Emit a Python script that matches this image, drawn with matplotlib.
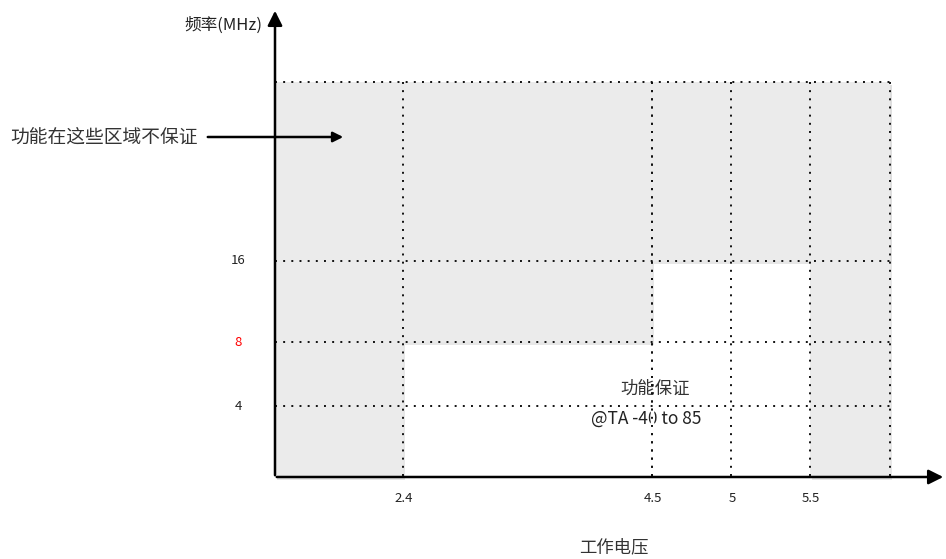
import matplotlib
matplotlib.use("Agg")
from matplotlib import pyplot as plt
from matplotlib.patches import Rectangle

plt.rcParams['font.family'] = ['Noto Sans CJK SC', 'DejaVu Sans']

# data
voltages = [2.4, 4.5, 5, 5.5]
voltage_labels = ['2.4', '4.5', '5', '5.5']
freqs = [4, 8, 16]
freq_labels = ['4', '8', '16']
freq_colors = ['#222222', 'red', '#222222']
x_label = '工作电压'
y_label = '频率(MHz)'
note_bad = '功能在这些区域不保证'
note_ok = ['功能保证', '@TA -40 to 85']

# layout (pixel positions on the drawing)
x0, y0 = 275, 477          # origin
x_right, y_top = 890, 82   # edge of the grey area
x_pos = {2.4: 403, 4.5: 652, 5: 731, 5.5: 810}
y_pos = {4: 406, 8: 342, 16: 261}

fig = plt.figure(figsize=(9.46, 5.59), dpi=100)
ax = fig.add_axes([0, 0, 1, 1])
ax.set_xlim(0, 946)
ax.set_ylim(559, 0)
ax.axis('off')

grey = '#ebebeb'
# regions where function is not guaranteed
regions = [
    (x0, y_top, x_pos[2.4], y0),                 # low voltage column
    (x0, y_top, x_right, y_pos[16]),             # above 16 MHz
    (x_pos[2.4], y_pos[16], x_pos[4.5], y_pos[8]),  # 8-16 MHz below 4.5 V
    (x_pos[5.5], y_top, x_right, y0),            # high voltage column
]
for (xa, ya, xb, yb) in regions:
    ax.add_patch(Rectangle((xa + 2, ya + 3), xb - xa, yb - ya, color='#d8d8d8', lw=0, zorder=1, alpha=0.6))
for (xa, ya, xb, yb) in regions:
    ax.add_patch(Rectangle((xa, ya), xb - xa, yb - ya, color=grey, lw=0, zorder=2))

dot = dict(color='#111111', lw=1.4, linestyle=(0, (1, 3.2)), zorder=3)
for f in freqs + [None]:
    y = y_top if f is None else y_pos[f]
    ax.plot([x0, x_right], [y, y], **dot)
for v in voltages + [None]:
    x = x_right if v is None else x_pos[v]
    ax.plot([x, x], [y_top, y0], **dot)

# axes with arrows
ax.annotate('', xy=(x0, 8), xytext=(x0, y0 + 1),
            arrowprops=dict(arrowstyle='-|>', color='black', lw=1.8, mutation_scale=22), zorder=5)
ax.annotate('', xy=(946, y0), xytext=(x0 - 1, y0),
            arrowprops=dict(arrowstyle='-|>', color='black', lw=1.8, mutation_scale=22), zorder=5)
ax.annotate('', xy=(346, 137), xytext=(205, 137),
            arrowprops=dict(arrowstyle='-|>', color='black', lw=1.8, mutation_scale=15), zorder=5)

# tick labels
for f, lab, c in zip(freqs, freq_labels, freq_colors):
    ax.text(238, y_pos[f], lab, ha='center', va='center', fontsize=9.5, color=c)
for v, lab in zip(voltages, voltage_labels):
    ax.text(x_pos[v] + 1, 499, lab, ha='center', va='center', fontsize=9.5, color='#222222')

ax.text(262, 25, y_label, ha='right', va='center', fontsize=12, color='#222222')
ax.text(614, 547, x_label, ha='center', va='center', fontsize=12.5, color='#333333')
ax.text(10, 137, note_bad, ha='left', va='center', fontsize=13.5, color='#333333')
ax.text(655, 389, note_ok[0], ha='center', va='center', fontsize=12.5, color='#333333', zorder=4)
ax.text(646, 419, note_ok[1], ha='center', va='center', fontsize=12.5, color='#222222', zorder=4)
# the dotted 4.5 V line sits over the label
ax.plot([x_pos[4.5], x_pos[4.5]], [410, 428], color='white', lw=2.5, zorder=4.5)
ax.plot([x_pos[4.5], x_pos[4.5]], [y_top, y0], color='#111111', lw=1.4, linestyle=(0, (1, 3.2)), zorder=4.6)

fig.savefig('out.png', dpi=100)
